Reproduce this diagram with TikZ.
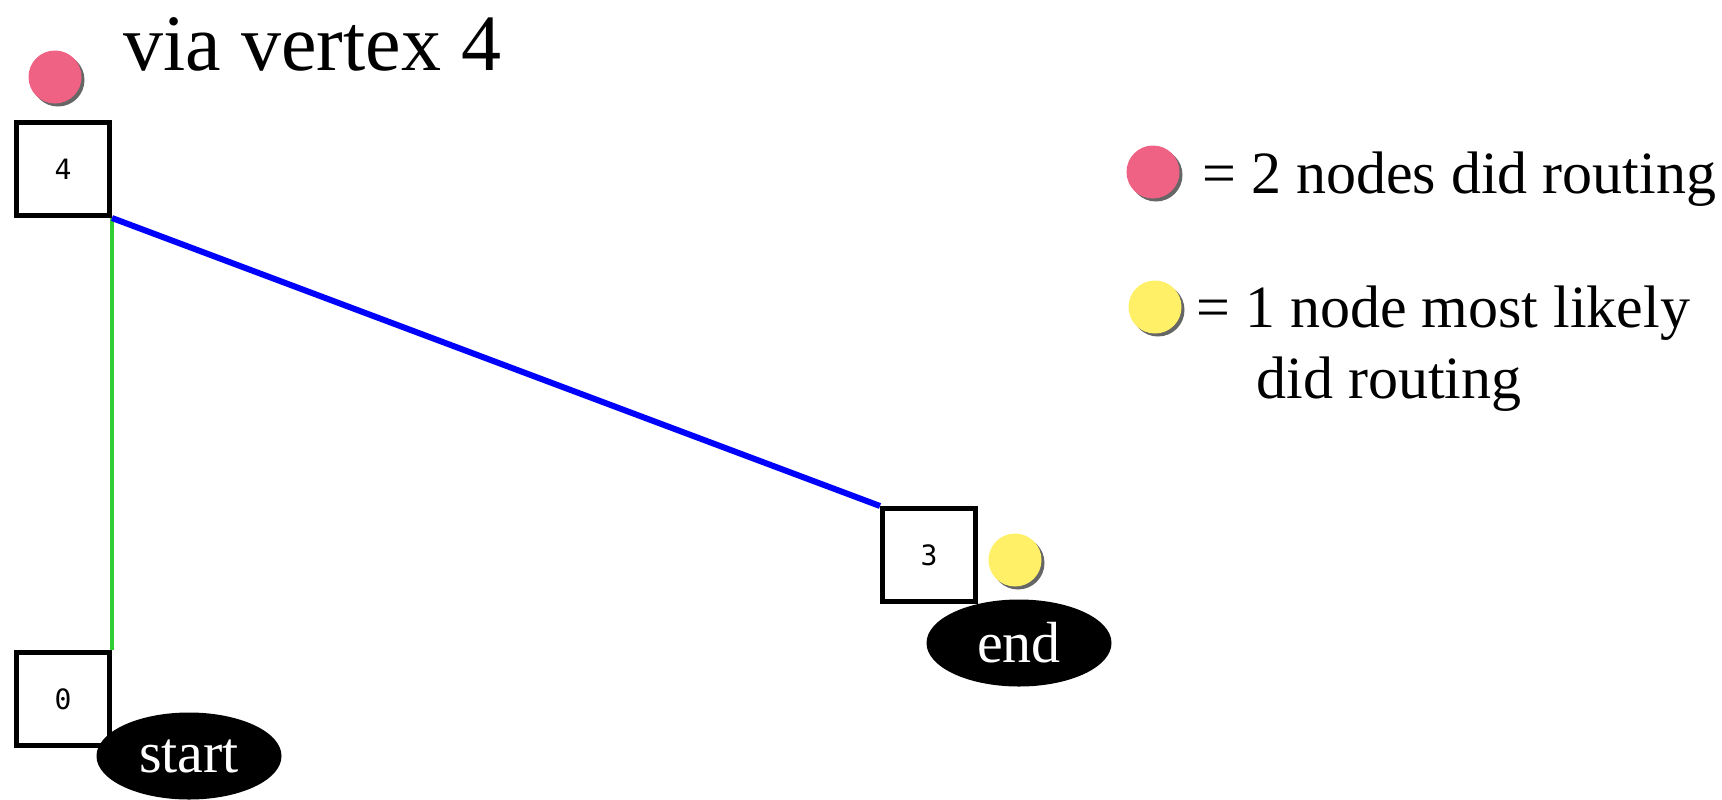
\documentclass[tikz,border=0pt]{standalone}
\usepackage{fontspec}
\setmainfont{Liberation Serif}
\newfontfamily\boxfont{DejaVu Sans Mono}
\usetikzlibrary{shapes.geometric, shadows}
\definecolor{dotpink}{RGB}{240,98,132}
\definecolor{dotyellow}{RGB}{255,240,104}
\definecolor{edgegreen}{RGB}{50,205,50}

\begin{document}
\begin{tikzpicture}[x=0.5pt, y=-0.5pt,
  vertex/.style={
    draw=black, line width=2.5pt, fill=white,
    minimum size=46.5pt, inner sep=0pt,
    font=\boxfont\fontsize{14}{14}\selectfont
  },
  tag/.style={
    ellipse, fill=black, text=white,
    minimum width=92.5pt, minimum height=43.5pt, inner sep=0pt,
    font=\fontsize{29}{29}\selectfont
  },
  routedot/.style={
    circle, fill=#1, minimum size=26.5pt, inner sep=0pt,
    drop shadow={shadow xshift=1.5pt, shadow yshift=-1.5pt, fill=black!60, opacity=1}
  },
  legend/.style={anchor=base west, inner sep=0pt, font=\fontsize{30}{30}\selectfont},
  link/.style={line width=#1}
]
  \useasboundingbox (0,0) rectangle (1722,799);

  \node[anchor=base west, inner sep=0pt, font=\fontsize{40}{40}\selectfont] (title) at (123,70) {via vertex 4};

  \node[vertex] (v4) at (63,169) {4};
  \node[vertex] (v3) at (929,555) {3};
  \node[vertex] (v0) at (63,699) {0};

  \draw[link=2pt, edgegreen] (v4.south east) -- (v0.north east);
  \draw[link=3pt, blue] (v4.south east) -- (v3.north west);

  \node[routedot=dotpink] (d4) at (55,77) {};
  \node[routedot=dotyellow] (d3) at (1015,560) {};

  \node[tag] (start) at (189,756) {start};
  \node[tag] (end) at (1019,643) {end};

  % legend
  \node[routedot=dotpink] (keypink) at (1153,172) {};
  \node[routedot=dotyellow] (keyyellow) at (1155,307) {};
  \node[legend] (keytwo) at (1202,193) {= 2 nodes did routing};
  \node[legend] (keyone) at (1196,327) {= 1 node most likely};
  \node[legend] (keyonemore) at (1256,398) {did routing};
\end{tikzpicture}
\end{document}
